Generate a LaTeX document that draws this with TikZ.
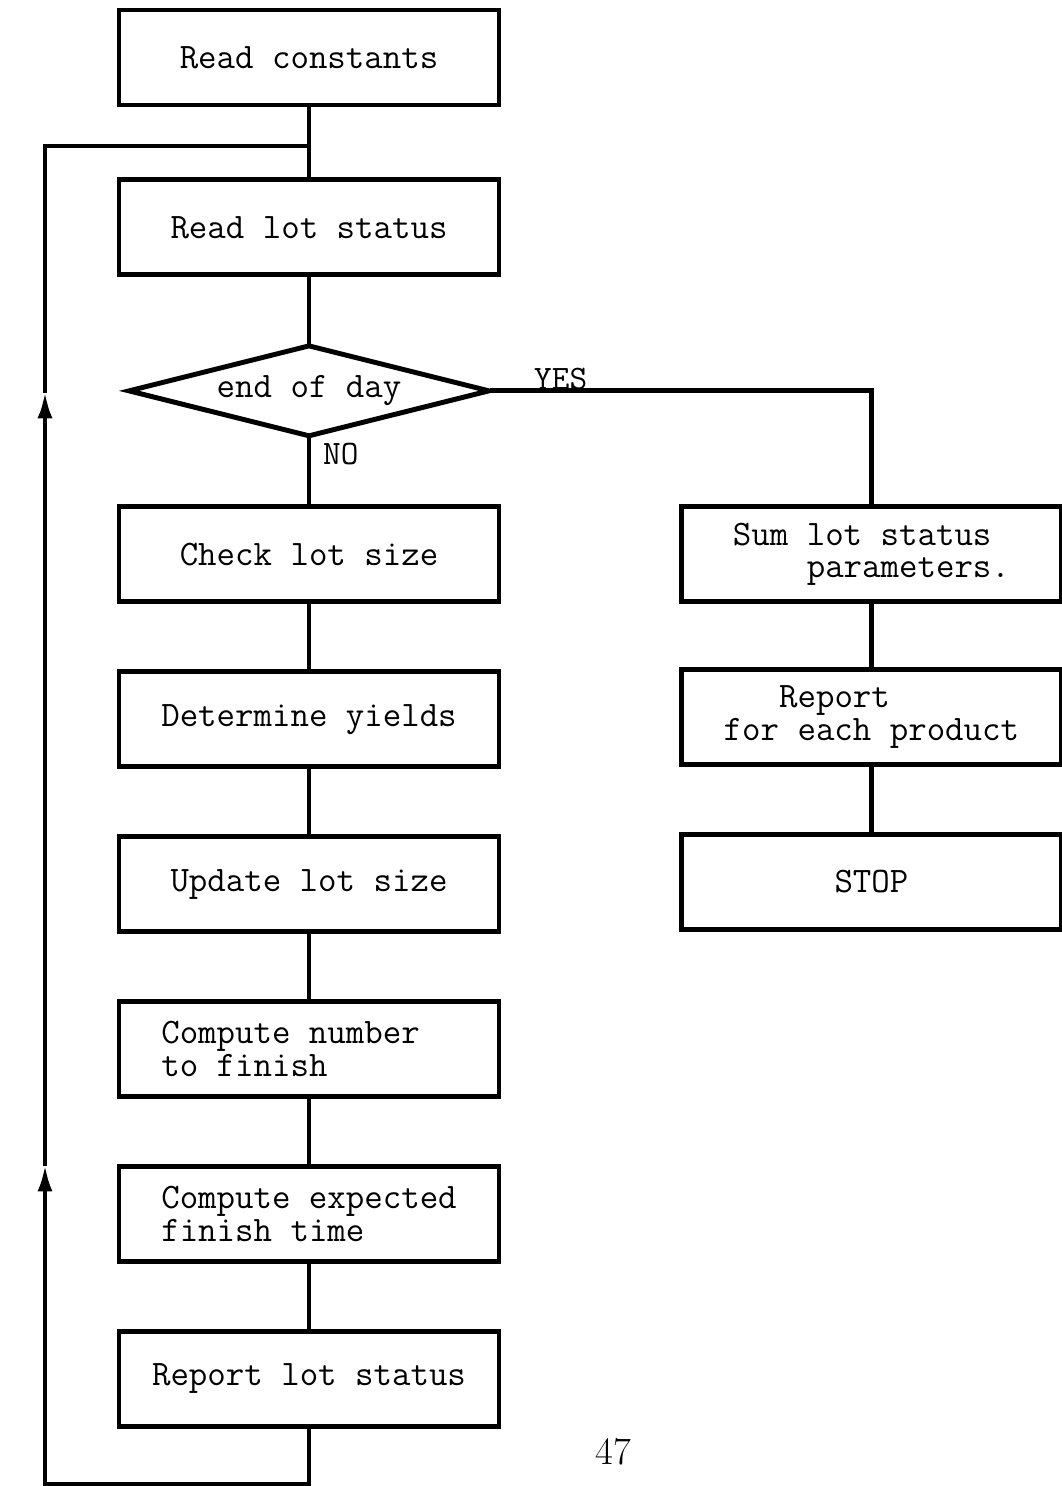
\documentclass[tikz,border=0pt]{standalone}
\usepackage{fontspec}
\usetikzlibrary{shapes.geometric,arrows.meta,positioning,calc}
\tikzset{
  box/.style={draw=black, line width=2.8pt, minimum width=7.6cm, minimum height=1.9cm, inner sep=0pt, font=\ttfamily\fontsize{20.4}{18.6}\selectfont, align=center},
  boxL/.style={box, align=left},
  dec/.style={box, shape=diamond, aspect=3.93, minimum width=7.24cm, minimum height=1.84cm},
  ln/.style={line width=2.8pt, draw=black, line cap=rect},
  arr/.style={ln, -{Latex[length=0.55cm, width=0.3cm]}},
  lbl/.style={font=\ttfamily\fontsize{19.5}{18}\selectfont, inner sep=1pt},
}
\begin{document}
\begin{tikzpicture}[node distance=1.3cm]
\useasboundingbox (0,0) rectangle (21.24,-29.72);
% main column
\node[box] (rc) at (6.18,-1.15) {Read constants};
\node[box, below=1.4cm of rc] (rls) {Read lot status};
\node[dec, below=of rls] (eod) {end of day};
\node[box, below=of eod] (cls) {Check lot size};
\node[box, below=of cls] (dy) {Determine yields};
\node[box, below=of dy] (uls) {Update lot size};
\node[boxL, below=of uls] (cnf) {Compute number\phantom{xx}\\to finish};
\node[boxL, below=of cnf] (cef) {Compute expected\\finish time};
\node[box, below=of cef] (rep) {Report lot status};
% end of day branch
\node[boxL, right=3.55cm of cls] (sum) {Sum lot status\\\phantom{Sum }parameters.};
\node[boxL, below=1.25cm of sum] (rfp) {\phantom{for}Report\\for each product};
\node[box, below=of rfp] (stop) {STOP};
\node[font=\fontsize{22}{22}\selectfont] (pg) at (12.26,-29.04) {47};
\foreach \u/\v in {rc/rls,rls/eod,cls/dy,dy/uls,uls/cnf,cnf/cef,cef/rep,sum/rfp,rfp/stop} \draw[ln] (\u) -- (\v);
\draw[ln] (eod) -- node[lbl, pos=0, anchor=north west, xshift=0.2cm] (no) {NO} (cls);
\draw[ln] (eod) -| node[lbl, pos=0.09, anchor=south, yshift=-2pt] (yes) {YES} (sum);
% loop back
\coordinate (join) at ($(rc.south)!0.55!(rls.north)$);
\coordinate (lb) at ($(rep.south)+(-5.28,-1.12)$);
\coordinate (up1) at (lb |- cef.north);
\coordinate (up2) at (lb |- eod.west);
\draw[ln] (rep) |- (lb);
\draw[arr] (lb) -- (up1);
\draw[arr] (up1) -- (up2);
\draw[ln] (up2) |- (join);
\end{tikzpicture}
\end{document}
